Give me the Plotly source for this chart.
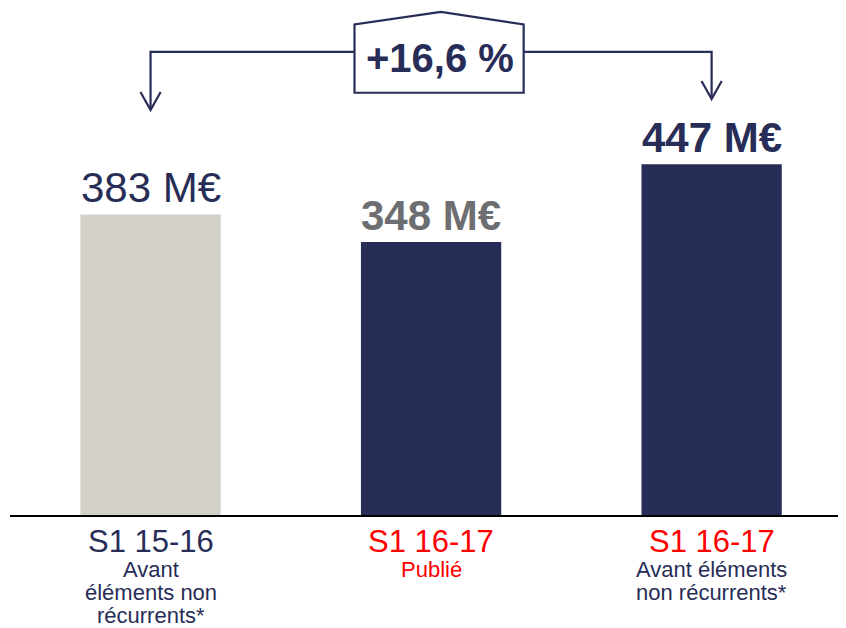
import plotly.graph_objects as go

# Data
categories = ["S1 15-16", "S1 16-17", "S1 16-17 bis"]
values = [383, 348, 447]
value_labels = ["383 M€", "<b>348 M€</b>", "<b>447 M€</b>"]
growth_label = "<b>+16,6 %</b>"

# category captions: (text, color, size)
captions = [
    [("S1 15-16", "#272d57", 31), ("Avant", "#272d57", 22),
     ("éléments non", "#272d57", 22), ("récurrents*", "#272d57", 22)],
    [("S1 16-17", "#ff0000", 31), ("Publié", "#ff0000", 22)],
    [("S1 16-17", "#ff0000", 31), ("Avant éléments", "#272d57", 22),
     ("non récurrents*", "#272d57", 22)],
]

NAVY = "#272d57"
bar_colors = ["#d3d0ca", NAVY, NAVY]
label_colors = [NAVY, "#6d6e71", NAVY]
FONT = "Liberation Sans, Arial, sans-serif"

x = list(range(len(categories)))

fig = go.Figure()
fig.add_trace(go.Bar(
    x=x, y=values, width=0.5,
    marker=dict(color=bar_colors, line=dict(width=0)),
    hoverinfo="skip", showlegend=False,
))

annotations = []
# value labels above bars
for i, v in enumerate(values):
    annotations.append(dict(
        x=i, y=v, xref="x", yref="y", text=value_labels[i],
        showarrow=False, yanchor="bottom", yshift=1,
        font=dict(family=FONT, size=42, color=label_colors[i]),
    ))

# category captions under the axis
line_shifts = [-26, -54, -77, -100]
for i, lines in enumerate(captions):
    for j, (txt, col, size) in enumerate(lines):
        annotations.append(dict(
            x=i, y=0, xref="x", yref="paper", text=txt,
            showarrow=False, yanchor="middle", yshift=line_shifts[j],
            font=dict(family=FONT, size=size, color=col),
        ))

# growth bracket
y_line = 590
shapes = [
    dict(type="path", xref="x", yref="y",
         path=f"M 0,517 L 0,{y_line} L 2,{y_line} L 2,531",
         line=dict(color=NAVY, width=2.2), layer="above"),
    # open arrow heads
    dict(type="path", xref="x", yref="y",
         path="M -0.036,539 L 0,516 L 0.036,539",
         line=dict(color=NAVY, width=2.2), layer="above"),
    dict(type="path", xref="x", yref="y",
         path="M 1.964,553 L 2,530 L 2.036,553",
         line=dict(color=NAVY, width=2.2), layer="above"),
    # house-shaped box
    dict(type="path", xref="x", yref="y",
         path="M 0.727,538 L 0.727,625 L 1.035,641 L 1.33,625 L 1.33,538 Z",
         line=dict(color=NAVY, width=2.2), fillcolor="white", layer="above"),
]
annotations.append(dict(
    x=1.03, y=582, xref="x", yref="y", text=growth_label, showarrow=False,
    font=dict(family=FONT, size=40, color=NAVY),
))

# page body adds an 8px offset, so the figure is drawn 8px smaller
fig.update_layout(
    width=838, height=620,
    margin=dict(l=2, r=0, t=0, b=113),
    plot_bgcolor="white", paper_bgcolor="white",
    bargap=0.5,
    annotations=annotations, shapes=shapes,
    xaxis=dict(range=[-0.501, 2.479], showticklabels=False, showgrid=False,
               zeroline=False, showline=True, linecolor="#000000", linewidth=1.5,
               ticks=""),
    yaxis=dict(range=[0, 646], visible=False, showgrid=False, zeroline=False),
)

fig.write_html("out.html")
